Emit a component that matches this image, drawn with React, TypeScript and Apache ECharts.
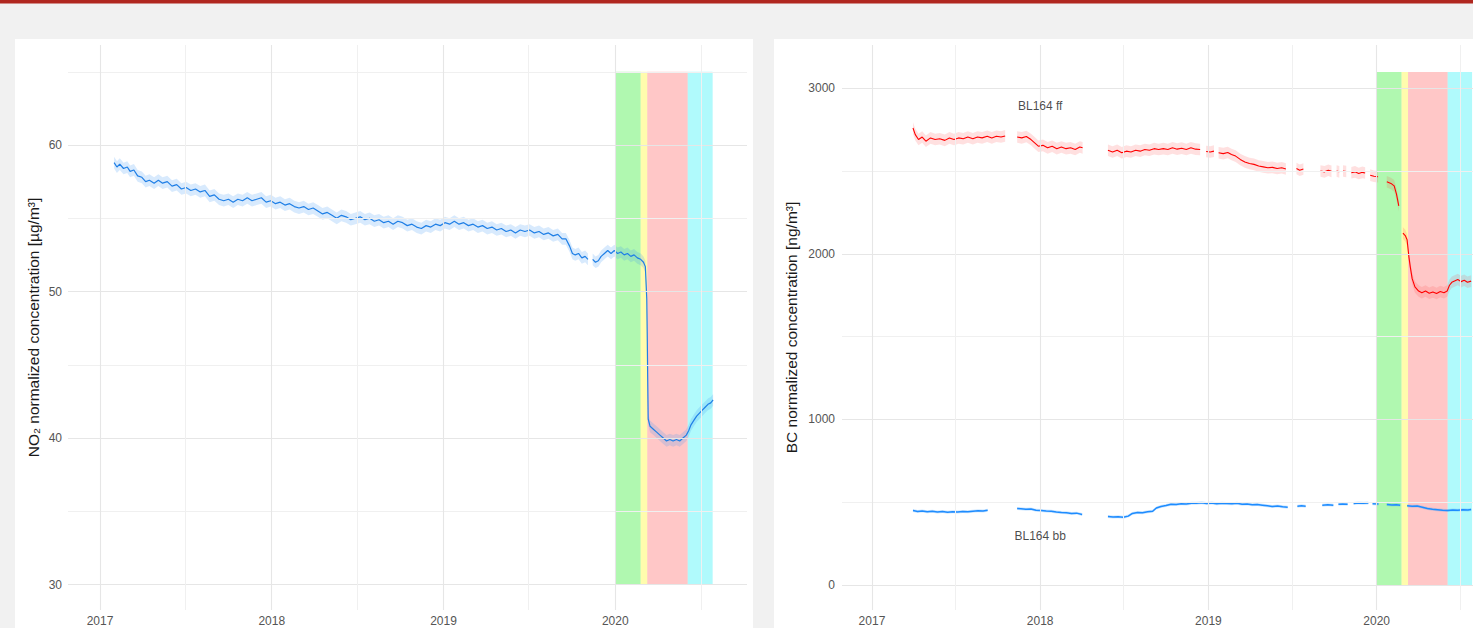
import React, { useEffect, useRef } from "react";
import * as echarts from "echarts";

// ---------- tick values ----------
const yearTicks = ["2017-01-01", "2018-01-01", "2019-01-01", "2020-01-01"];
const halfYearTicks = ["2017-07-01", "2018-07-01", "2019-07-01", "2020-07-01"];
const no2MajorTicks = [30, 40, 50, 60];
const no2MinorTicks = [35, 45, 55, 65];
const bcMajorTicks = [0, 1000, 2000, 3000];
const bcMinorTicks = [500, 1500, 2500];

// ---------- periods (boundaries of shaded windows) ----------
const periodBounds = ["2020-01-01", "2020-02-24", "2020-03-09", "2020-06-03", "2020-07-26"];

// ---------- NO2 normalized concentration [date, value] ----------
const no2Points: [string, number | null][] = [
  ["2017-01-31", 58.8], ["2017-02-06", 58.5], ["2017-02-12", 58.7], ["2017-02-20", 58.4],
  ["2017-02-28", 58.5], ["2017-03-06", 58.2], ["2017-03-14", 58.3], ["2017-03-22", 57.9],
  ["2017-03-31", 57.8], ["2017-04-08", 57.5], ["2017-04-16", 57.6], ["2017-04-26", 57.4],
  ["2017-05-05", 57.6], ["2017-05-14", 57.4], ["2017-05-24", 57.5], ["2017-06-03", 57.2],
  ["2017-06-13", 57.3], ["2017-06-23", 57.0], ["2017-07-03", 57.1], ["2017-07-13", 56.9],
  ["2017-07-23", 57.0], ["2017-08-02", 56.8], ["2017-08-12", 56.9], ["2017-08-22", 56.5],
  ["2017-09-01", 56.6], ["2017-09-11", 56.3], ["2017-09-21", 56.2], ["2017-10-01", 56.3],
  ["2017-10-11", 56.1], ["2017-10-21", 56.3], ["2017-10-31", 56.2], ["2017-11-10", 56.4],
  ["2017-11-20", 56.2], ["2017-11-30", 56.3], ["2017-12-10", 56.4], ["2017-12-20", 56.1],
  ["2017-12-30", 56.2], ["2018-01-09", 56.0], ["2018-01-19", 56.1], ["2018-01-29", 55.9],
  ["2018-02-08", 56.0], ["2018-02-18", 55.8], ["2018-02-28", 55.7], ["2018-03-10", 55.8],
  ["2018-03-20", 55.6], ["2018-03-30", 55.7], ["2018-04-09", 55.5], ["2018-04-19", 55.3],
  ["2018-04-29", 55.4], ["2018-05-09", 55.2], ["2018-05-19", 55.0], ["2018-05-29", 55.2],
  ["2018-06-08", 55.1], ["2018-06-18", 54.9], ["2018-06-28", 55.0], ["2018-07-08", 55.1],
  ["2018-07-18", 54.9], ["2018-07-28", 55.0], ["2018-08-07", 54.8], ["2018-08-17", 54.9],
  ["2018-08-27", 54.7], ["2018-09-06", 54.8], ["2018-09-16", 54.6], ["2018-09-26", 54.8],
  ["2018-10-06", 54.7], ["2018-10-16", 54.5], ["2018-10-26", 54.6], ["2018-11-05", 54.4],
  ["2018-11-15", 54.3], ["2018-11-25", 54.5], ["2018-12-05", 54.4], ["2018-12-15", 54.6],
  ["2018-12-25", 54.5], ["2019-01-04", 54.7], ["2019-01-14", 54.6], ["2019-01-24", 54.8],
  ["2019-02-03", 54.6], ["2019-02-13", 54.7], ["2019-02-23", 54.5], ["2019-03-05", 54.6],
  ["2019-03-15", 54.4], ["2019-03-25", 54.5], ["2019-04-04", 54.3], ["2019-04-14", 54.4],
  ["2019-04-24", 54.2], ["2019-05-04", 54.3], ["2019-05-14", 54.1], ["2019-05-24", 54.2],
  ["2019-06-03", 54.0], ["2019-06-13", 54.2], ["2019-06-23", 54.1], ["2019-07-03", 54.2],
  ["2019-07-13", 54.0], ["2019-07-23", 54.1], ["2019-08-02", 53.9], ["2019-08-12", 54.0],
  ["2019-08-22", 53.8], ["2019-09-01", 53.9], ["2019-09-10", 53.6], ["2019-09-18", 53.6],
  ["2019-09-26", 53.1], ["2019-10-02", 52.6], ["2019-10-08", 52.5], ["2019-10-15", 52.6],
  ["2019-10-22", 52.3], ["2019-10-29", 52.4], ["2019-11-04", 52.2], ["2019-11-08", null],
  ["2019-11-14", 52.2], ["2019-11-20", 52.0], ["2019-11-26", 52.1], ["2019-12-02", 52.4],
  ["2019-12-09", 52.6], ["2019-12-16", 52.8], ["2019-12-23", 52.6], ["2019-12-30", 52.8],
  ["2020-01-06", 52.6], ["2020-01-13", 52.7], ["2020-01-20", 52.5], ["2020-01-27", 52.6],
  ["2020-02-03", 52.4], ["2020-02-10", 52.5], ["2020-02-17", 52.3], ["2020-02-24", 52.2],
  ["2020-03-01", 52.0], ["2020-03-05", 51.7], ["2020-03-08", 49.5], ["2020-03-09", 47.0],
  ["2020-03-10", 44.0], ["2020-03-11", 41.3], ["2020-03-15", 40.8], ["2020-03-22", 40.6],
  ["2020-03-29", 40.4], ["2020-04-05", 40.2], ["2020-04-12", 40.0], ["2020-04-19", 39.8],
  ["2020-04-26", 39.9], ["2020-05-03", 39.8], ["2020-05-10", 39.9], ["2020-05-17", 39.8],
  ["2020-05-24", 40.0], ["2020-05-31", 40.2], ["2020-06-05", 40.5], ["2020-06-10", 40.9],
  ["2020-06-16", 41.2], ["2020-06-22", 41.5], ["2020-06-28", 41.7], ["2020-07-04", 41.9],
  ["2020-07-10", 42.1], ["2020-07-16", 42.3], ["2020-07-22", 42.4], ["2020-07-27", 42.6],
];
const no2Spread = 0.4;

// ---------- BC BL164 ff [date, value] ----------
const ffPoints: [string, number | null][] = [
  ["2017-03-31", 2760], ["2017-04-05", 2720], ["2017-04-12", 2690], ["2017-04-20", 2705],
  ["2017-04-28", 2680], ["2017-05-08", 2700], ["2017-05-18", 2690], ["2017-05-28", 2695],
  ["2017-06-08", 2685], ["2017-06-18", 2700], ["2017-06-28", 2690], ["2017-07-08", 2700],
  ["2017-07-18", 2695], ["2017-07-28", 2705], ["2017-08-08", 2695], ["2017-08-18", 2705],
  ["2017-08-28", 2700], ["2017-09-08", 2710], ["2017-09-18", 2700], ["2017-09-28", 2710],
  ["2017-10-08", 2705], ["2017-10-17", 2712], ["2017-10-24", null],
  ["2017-11-12", 2705], ["2017-11-22", 2700], ["2017-12-02", 2708], ["2017-12-12", 2690],
  ["2017-12-20", 2670], ["2017-12-28", 2650], ["2018-01-07", 2655], ["2018-01-17", 2640],
  ["2018-01-27", 2650], ["2018-02-06", 2635], ["2018-02-16", 2645], ["2018-02-26", 2635],
  ["2018-03-08", 2640], ["2018-03-18", 2630], ["2018-03-28", 2645], ["2018-04-03", 2640],
  ["2018-04-15", null],
  ["2018-05-28", 2625], ["2018-06-07", 2615], ["2018-06-17", 2625], ["2018-06-27", 2610],
  ["2018-07-07", 2620], ["2018-07-17", 2615], ["2018-07-27", 2625], ["2018-08-06", 2620],
  ["2018-08-16", 2630], ["2018-08-26", 2625], ["2018-09-05", 2635], ["2018-09-15", 2630],
  ["2018-09-25", 2635], ["2018-10-05", 2630], ["2018-10-15", 2640], ["2018-10-25", 2632],
  ["2018-11-04", 2638], ["2018-11-14", 2630], ["2018-11-24", 2640], ["2018-12-04", 2632],
  ["2018-12-14", 2630], ["2018-12-19", null],
  ["2018-12-27", 2618], ["2019-01-05", 2615], ["2019-01-13", 2620], ["2019-01-18", null],
  ["2019-01-23", 2610], ["2019-02-02", 2605], ["2019-02-12", 2612], ["2019-02-20", 2600],
  ["2019-03-01", 2590], ["2019-03-11", 2570], ["2019-03-21", 2555], ["2019-03-31", 2545],
  ["2019-04-10", 2540], ["2019-04-20", 2530], ["2019-04-30", 2525], ["2019-05-10", 2520],
  ["2019-05-20", 2522], ["2019-05-30", 2515], ["2019-06-09", 2520], ["2019-06-18", 2512],
  ["2019-06-28", null],
  ["2019-07-11", 2515], ["2019-07-18", 2505], ["2019-07-26", 2512], ["2019-08-10", null],
  ["2019-09-01", 2500], ["2019-09-10", 2495], ["2019-09-18", 2505], ["2019-09-25", 2498],
  ["2019-09-30", null],
  ["2019-10-06", 2500], ["2019-10-12", 2495], ["2019-10-16", null],
  ["2019-10-20", 2500], ["2019-10-27", 2497], ["2019-11-02", null],
  ["2019-11-07", 2490], ["2019-11-15", 2495], ["2019-11-23", 2485], ["2019-12-01", 2492],
  ["2019-12-07", 2488], ["2019-12-12", null],
  ["2019-12-18", 2475], ["2019-12-26", 2468], ["2020-01-04", 2465], ["2020-01-11", null],
  ["2020-01-23", 2435], ["2020-02-01", 2425], ["2020-02-08", 2410], ["2020-02-13", 2360],
  ["2020-02-18", 2290], ["2020-02-22", null],
  ["2020-02-27", 2125], ["2020-03-03", 2110], ["2020-03-07", 2085], ["2020-03-11", 1980],
  ["2020-03-14", 1920], ["2020-03-18", 1850], ["2020-03-24", 1800], ["2020-04-01", 1775],
  ["2020-04-08", 1765], ["2020-04-16", 1775], ["2020-04-24", 1762], ["2020-05-02", 1770],
  ["2020-05-10", 1760], ["2020-05-18", 1772], ["2020-05-26", 1765], ["2020-06-02", 1775],
  ["2020-06-07", 1810], ["2020-06-12", 1828], ["2020-06-18", 1836], ["2020-06-25", 1845],
  ["2020-07-02", 1832], ["2020-07-09", 1840], ["2020-07-16", 1828], ["2020-07-24", 1835],
];
const ffSpread = 35;

// ---------- BC BL164 bb [date, value] ----------
const bbPoints: [string, number | null][] = [
  ["2017-03-31", 450], ["2017-04-10", 444], ["2017-04-20", 447], ["2017-05-01", 442],
  ["2017-05-12", 445], ["2017-05-23", 441], ["2017-06-03", 444], ["2017-06-14", 440],
  ["2017-06-25", 443], ["2017-07-06", 441], ["2017-07-17", 444], ["2017-07-28", 442],
  ["2017-08-08", 446], ["2017-08-19", 448], ["2017-08-30", 447], ["2017-09-09", 452],
  ["2017-09-14", null],
  ["2017-11-12", 462], ["2017-11-20", 460], ["2017-12-01", 457], ["2017-12-12", 459],
  ["2017-12-23", 452], ["2018-01-03", 450], ["2018-01-14", 447], ["2018-01-25", 445],
  ["2018-02-05", 441], ["2018-02-16", 438], ["2018-02-27", 436], ["2018-03-10", 432],
  ["2018-03-21", 434], ["2018-04-02", 426], ["2018-04-15", null],
  ["2018-05-28", 414], ["2018-06-08", 410], ["2018-06-19", 412], ["2018-06-30", 409],
  ["2018-07-11", 416], ["2018-07-20", 432], ["2018-07-31", 438], ["2018-08-11", 436],
  ["2018-08-22", 442], ["2018-09-02", 445], ["2018-09-10", 465], ["2018-09-20", 474],
  ["2018-10-01", 480], ["2018-10-12", 488], ["2018-10-23", 486], ["2018-11-03", 491],
  ["2018-11-14", 489], ["2018-11-25", 494], ["2018-12-06", 493], ["2018-12-17", 496],
  ["2018-12-28", 492], ["2019-01-08", 495], ["2019-01-19", 491], ["2019-01-30", 494],
  ["2019-02-10", 492], ["2019-02-21", 490], ["2019-03-04", 493], ["2019-03-15", 488],
  ["2019-03-26", 489], ["2019-04-06", 485], ["2019-04-17", 486], ["2019-04-28", 482],
  ["2019-05-09", 478], ["2019-05-20", 474], ["2019-05-31", 477], ["2019-06-11", 472],
  ["2019-06-22", 470], ["2019-07-01", null],
  ["2019-07-13", 476], ["2019-07-22", 478], ["2019-07-31", 476], ["2019-08-10", null],
  ["2019-09-05", 482], ["2019-09-17", 484], ["2019-09-29", 481], ["2019-10-05", null],
  ["2019-10-10", 487], ["2019-10-19", 489], ["2019-10-30", 488], ["2019-11-06", null],
  ["2019-11-12", 492], ["2019-11-22", 495], ["2019-12-03", 493], ["2019-12-14", 495],
  ["2019-12-18", null],
  ["2019-12-23", 490], ["2020-01-05", 489], ["2020-01-14", null],
  ["2020-01-23", 486], ["2020-02-03", 483], ["2020-02-13", 484], ["2020-02-21", 481],
  ["2020-02-27", null],
  ["2020-03-07", 478], ["2020-03-18", 476], ["2020-03-29", 477], ["2020-04-09", 470],
  ["2020-04-20", 462], ["2020-05-01", 458], ["2020-05-12", 455], ["2020-05-23", 452],
  ["2020-06-03", 450], ["2020-06-14", 453], ["2020-06-25", 451], ["2020-07-06", 455],
  ["2020-07-17", 453], ["2020-07-24", 456],
];
const bbSpread = 9;

// ---------- annotations ----------
const bcLabelTexts = ["BL164 ff", "BL164 bb"];
const bcLabelDates = ["2018-01-01", "2018-01-01"];
const bcLabelValues = [2893, 296];

// ---------- axis extents ----------
const no2XRange = ["2016-10-25", "2020-10-07"];
const no2YRange = [28.26, 66.83];
const no2ShadeY = [30, 65];
const bcXRange = ["2016-10-28", "2020-07-28"];
const bcYRange = [-151, 3261];
const bcShadeY = [0, 3098];

// ---------- styles ----------
const FONT = "Liberation Sans, Arial, Helvetica, sans-serif";
const shadeColors = [
  "rgba(0,232,0,0.31)",
  "rgba(255,245,0,0.32)",
  "rgba(255,0,0,0.22)",
  "rgba(0,238,245,0.31)",
];
const majorGrid = "#e6e6e6";
const minorGrid = "#f0f0f0";

const ts = (d: string) => Date.parse(d);

function gridSeries(xi: number, majorY: number[], minorY: number[]) {
  const data: any[] = [];
  minorY.forEach((v) => data.push({ yAxis: v, lineStyle: { color: minorGrid, width: 1, type: "solid" } }));
  majorY.forEach((v) => data.push({ yAxis: v, lineStyle: { color: majorGrid, width: 1.1, type: "solid" } }));
  halfYearTicks.forEach((d) => data.push({ xAxis: ts(d), lineStyle: { color: minorGrid, width: 1, type: "solid" } }));
  yearTicks.forEach((d) => data.push({ xAxis: ts(d), lineStyle: { color: majorGrid, width: 1.1, type: "solid" } }));
  return {
    type: "line",
    xAxisIndex: xi,
    yAxisIndex: xi,
    data: [],
    silent: true,
    z: 1,
    markLine: { silent: true, symbol: ["none", "none"], label: { show: false }, data, animation: false },
  };
}

function shadeSeries(xi: number, yr: number[]) {
  const data: any[] = [];
  for (let i = 0; i < periodBounds.length - 1; i++) {
    data.push([
      { xAxis: ts(periodBounds[i]), yAxis: yr[0], itemStyle: { color: shadeColors[i] } },
      { xAxis: ts(periodBounds[i + 1]), yAxis: yr[1] },
    ]);
  }
  return {
    type: "line",
    xAxisIndex: xi,
    yAxisIndex: xi,
    data: [],
    silent: true,
    z: 2,
    markArea: { silent: true, data, label: { show: false } },
  };
}

function segmentsOf(pts: [string, number | null][]) {
  const segs: [number, number][][] = [];
  let cur: [number, number][] = [];
  for (const [d, v] of pts) {
    if (v == null) {
      if (cur.length) segs.push(cur);
      cur = [];
    } else cur.push([ts(d), v]);
  }
  if (cur.length) segs.push(cur);
  return segs;
}

function ribbonSeries(xi: number, pts: [string, number | null][], spread: number, fill: string) {
  const segs = segmentsOf(pts);
  return {
    type: "custom",
    xAxisIndex: xi,
    yAxisIndex: xi,
    silent: true,
    z: 3,
    data: segs.map((s, i) => [s[0][0], s[0][1], i]),
    encode: { x: 0, y: 1 },
    renderItem: (params: any, api: any) => {
      const seg = segs[params.dataIndex];
      if (!seg || seg.length < 2) return null;
      const upper = seg.map(([x, v]) => api.coord([x, v + spread]));
      const lower = seg.map(([x, v]) => api.coord([x, v - spread])).reverse();
      return { type: "polygon", shape: { points: upper.concat(lower) }, style: { fill } };
    },
  };
}

function lineSeries(xi: number, pts: [string, number | null][], color: string, width: number) {
  return {
    type: "line",
    xAxisIndex: xi,
    yAxisIndex: xi,
    symbol: "none",
    silent: true,
    z: 4,
    connectNulls: false,
    data: pts.map(([d, v]) => [ts(d), v]),
    lineStyle: { color, width },
  };
}

function xAxis(gi: number, range: string[]) {
  return {
    type: "value",
    gridIndex: gi,
    min: ts(range[0]),
    max: ts(range[1]),
    splitLine: { show: false },
    axisLine: { show: false },
    axisTick: { show: false },
    axisLabel: {
      customValues: yearTicks.map(ts),
      formatter: (v: number) => String(new Date(v).getUTCFullYear()),
      color: "#555",
      fontSize: 12,
      margin: 5,
      fontFamily: FONT,
    },
  };
}

function yAxis(gi: number, range: number[], ticks: number[], name: string, gap: number, margin: number) {
  return {
    type: "value",
    gridIndex: gi,
    min: range[0],
    max: range[1],
    splitLine: { show: false },
    axisLine: { show: false },
    axisTick: { show: false },
    axisLabel: {
      customValues: ticks,
      formatter: (v: number) => String(v),
      color: "#555",
      fontSize: 12,
      margin,
      fontFamily: FONT,
    },
    name,
    nameLocation: "middle",
    nameRotate: 90,
    nameGap: gap,
    nameTextStyle: { fontSize: 15.5, color: "#1a1a1a", fontFamily: FONT },
  };
}

export default function App() {
  const ref = useRef<HTMLDivElement>(null);
  useEffect(() => {
    if (!ref.current) return;
    const chart = echarts.init(ref.current, undefined, { renderer: "svg" });
    const option: any = {
      animation: false,
      backgroundColor: "#f1f1f1",
      textStyle: { fontFamily: FONT },
      graphic: [
        { type: "rect", z: -10, shape: { x: 0, y: 0, width: 1473, height: 3.5 }, style: { fill: "#b0271f" } },
        { type: "rect", z: -10, shape: { x: 15, y: 39, width: 738, height: 600 }, style: { fill: "#ffffff" } },
        { type: "rect", z: -10, shape: { x: 774, y: 39, width: 720, height: 600 }, style: { fill: "#ffffff" } },
      ],
      grid: [
        { left: 68, top: 45, width: 679, height: 565 },
        { left: 842, top: 45, width: 631, height: 565 },
      ],
      xAxis: [xAxis(0, no2XRange), xAxis(1, bcXRange)],
      yAxis: [
        yAxis(0, no2YRange, no2MajorTicks, "NO₂ normalized concentration [µg/m³]", 27, 6),
        yAxis(1, bcYRange, bcMajorTicks, "BC normalized concentration [ng/m³]", 43, 7),
      ],
      series: [
        gridSeries(0, no2MajorTicks, no2MinorTicks),
        shadeSeries(0, no2ShadeY),
        ribbonSeries(0, no2Points, no2Spread, "rgba(60,150,245,0.2)"),
        lineSeries(0, no2Points, "#1f7fe6", 1.2),

        gridSeries(1, bcMajorTicks, bcMinorTicks),
        shadeSeries(1, bcShadeY),
        ribbonSeries(1, ffPoints, ffSpread, "rgba(255,60,60,0.16)"),
        lineSeries(1, ffPoints, "#ff0000", 1.1),
        ribbonSeries(1, bbPoints, bbSpread, "rgba(30,144,255,0.22)"),
        lineSeries(1, bbPoints, "#1e8cff", 1.5),
        {
          type: "scatter",
          xAxisIndex: 1,
          yAxisIndex: 1,
          symbolSize: 1,
          silent: true,
          z: 5,
          itemStyle: { color: "rgba(0,0,0,0)" },
          data: bcLabelTexts.map((t, i) => ({ name: t, value: [ts(bcLabelDates[i]), bcLabelValues[i]] })),
          label: { show: true, position: "inside", formatter: "{b}", color: "#1a1a1a", fontSize: 12, fontFamily: FONT },
        },
      ],
    };
    chart.setOption(option);
    return () => chart.dispose();
  }, []);
  return (
    <div
      ref={ref}
      style={{ position: "fixed", left: 0, top: 0, width: 1473, height: 628 }}
    />
  );
}
